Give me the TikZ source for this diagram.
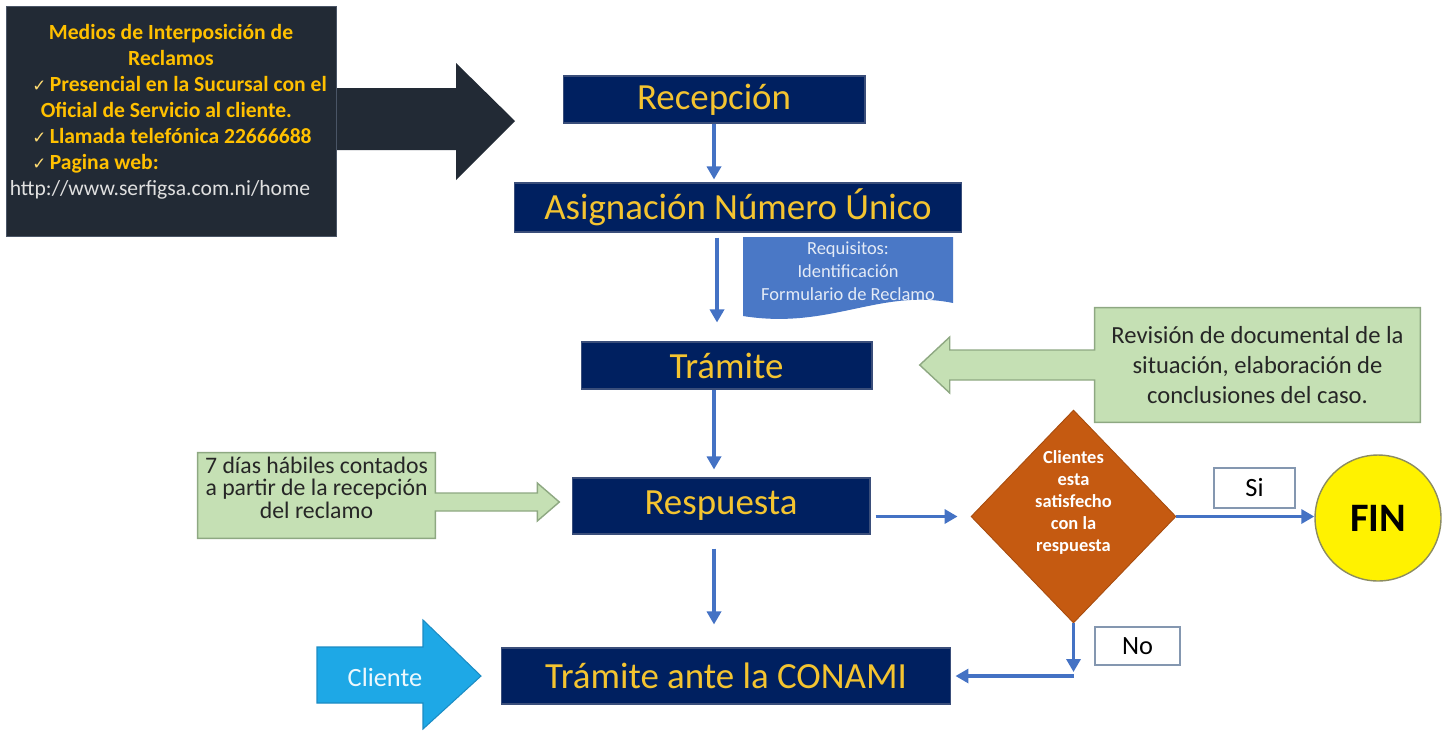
\documentclass[tikz,border=0pt]{standalone}
\usepackage{fontspec}
\setmainfont{Carlito}
\newfontfamily\symbolfont{DejaVu Sans}
\usepackage{xcolor}
\usepackage{tikz}
\usetikzlibrary{shapes.geometric,arrows.meta,positioning,calc,backgrounds}

\definecolor{navy}{HTML}{002060}
\definecolor{navyline}{HTML}{3A4E7A}
\definecolor{gold}{HTML}{F4C430}
\definecolor{amber}{HTML}{FFC000}
\definecolor{slate}{HTML}{222A35}
\definecolor{slateline}{HTML}{4A5566}
\definecolor{flowblue}{HTML}{4472C4}
\definecolor{docblue}{HTML}{4A78C6}
\definecolor{leaf}{HTML}{C5E0B4}
\definecolor{leafline}{HTML}{8EA882}
\definecolor{rust}{HTML}{C55A11}
\definecolor{sky}{HTML}{1EA8E6}
\definecolor{skyline}{HTML}{1B8CC4}
\definecolor{tagline}{HTML}{8497B0}
\definecolor{urlgray}{HTML}{E0E0E0}
\definecolor{finline}{HTML}{8C8C60}

\newcommand{\chk}{{\symbolfont\fontsize{9.5}{10}\selectfont\color{amber!55!white}✓}}

\begin{document}
\begin{tikzpicture}[x=0.02cm, y=-0.02cm,
    stage/.style={rectangle, fill=navy, draw=navyline, line width=0.6pt, text=gold,
                  font=\fontsize{21}{25}\selectfont, inner sep=0pt},
    mediosbox/.style={rectangle, fill=slate, draw=slateline, line width=0.5pt,
                      minimum width=6.6cm, minimum height=4.6cm,
                      align=left, inner sep=0pt, text=amber, font=\fontsize{12.3}{14.8}\selectfont},
    note/.style={align=center, text=black!85, inner sep=0pt},
    tag/.style={rectangle, draw=tagline, line width=0.6pt, fill=white, inner sep=0pt,
                font=\fontsize{15}{18}\selectfont},
    decision/.style={diamond, fill=rust, draw=rust!85!black, line width=0.5pt,
                     minimum width=4.1cm, minimum height=4.26cm, inner sep=0pt},
    dectext/.style={align=center, text=white, inner sep=0pt,
                    font=\bfseries\fontsize{10.5}{12.5}\selectfont},
    arr/.style={-{Triangle[length=0.26cm, width=0.28cm]}, line width=2pt, draw=flowblue},
    blockarrow/.style={line width=0.8pt, draw=leafline, fill=leaf, line join=miter}
  ]
  \useasboundingbox (0,0) rectangle (1453,731);

  % Claim channels box with its arrow
  \fill[slate] (320,88) -- (456,88) -- (456,63) -- (515,121) -- (456,180) -- (456,150) -- (320,150) -- cycle;
  \node[mediosbox] (medios) at (171,121) {%
    \makebox[6.45cm]{\bfseries Medios de Interposición de}\\
    \makebox[6.45cm]{\bfseries Reclamos}\\
    \hspace*{0.45cm}\chk\,\textbf{Presencial en la Sucursal con el}\\
    \hspace*{0.62cm}\textbf{Oficial de Servicio al cliente.}\\
    \hspace*{0.45cm}\chk\,\textbf{Llamada telefónica 22666688}\\
    \hspace*{0.45cm}\chk\,\textbf{Pagina web:}\\
    {\color{urlgray}http://www.serfigsa.com.ni/home}\\[-2pt]
    \mbox{}};

  % Main vertical stack
  \node[stage, minimum width=6.04cm, minimum height=0.94cm] (recep) at (714,99.5) {Recepción};
  \node[stage, minimum width=8.96cm, minimum height=0.98cm] (asig) at (738,207.5) {Asignación Número Único};
  \node[stage, minimum width=5.82cm, minimum height=0.94cm] (tram) at (726.5,365.5) {Trámite};
  \node[stage, minimum width=5.96cm, minimum height=1.12cm] (resp) at (721,506) {Respuesta};
  \node[stage, minimum width=9cm, minimum height=1.12cm] (conami) at (726,676) {Trámite ante la CONAMI};

  \draw[arr, shorten >=0.06cm] (recep.south) -- (recep.south |- asig.north);
  \draw[arr, shorten <=0.1cm, shorten >=0.38cm] ([xshift=-0.42cm]asig.south) -- ([xshift=-0.42cm]asig.south |- tram.north);
  \draw[arr, shorten >=0.16cm] ([xshift=-0.25cm]tram.south) -- ([xshift=-0.25cm]tram.south |- resp.north);
  \draw[arr, shorten <=0.28cm, shorten >=0.46cm] ([xshift=-0.14cm]resp.south) -- ([xshift=-0.14cm]resp.south |- conami.north);

  % Requirements document
  \node[font=\fontsize{10.5}{13.2}\selectfont, text=white!85!docblue, align=center, inner sep=0pt] (req) at (848,271)
    {Requisitos:\\Identificación\\Formulario de Reclamo};
  \begin{scope}[on background layer]
    \fill[docblue] (743,237) -- (953,237) -- (953,303) .. controls (880,288) and (830,330) .. (743,316) -- cycle;
  \end{scope}

  % Review note pointing at the process step
  \node[note, font=\fontsize{14}{17}\selectfont, minimum width=6.5cm, minimum height=2.28cm] (rev) at (1257.5,365)
    {Revisión de documental de la\\situación, elaboración de\\conclusiones del caso.};
  \begin{scope}[on background layer]
    \draw[blockarrow] (rev.north west) -- ([yshift=0.3cm]rev.west) -- ++(-2.9cm,0) -- ++(0,0.26cm)
      -- ++(-0.6cm,-0.56cm) -- ++(0.6cm,-0.56cm) -- ++(0,0.26cm) -- ([yshift=-0.3cm]rev.west)
      -- (rev.south west) -- (rev.south east) -- (rev.north east) -- cycle;
  \end{scope}

  % Deadline note
  \node[note, font=\fontsize{13.5}{13}\selectfont, minimum width=4.74cm, minimum height=1.7cm] (plazo) at (316.5,495.5)
    {7 días hábiles contados\\a partir de la recepción\\del reclamo\\[-4pt]\mbox{}};
  \begin{scope}[on background layer]
    \draw[blockarrow] (plazo.north east) -- ([yshift=0.05cm]plazo.east) -- ++(2.04cm,0) -- ++(0,0.2cm)
      -- ++(0.44cm,-0.38cm) -- ++(-0.44cm,-0.38cm) -- ++(0,0.2cm) -- ([yshift=-0.31cm]plazo.east)
      -- (plazo.south east) -- (plazo.south west) -- (plazo.north west) -- cycle;
  \end{scope}

  % Decision and outcomes
  \node[decision] (dia) at (1073.5,516.5) {};
  \node[dectext] (diatxt) at ([yshift=0.28cm]dia.center) {Clientes\\esta\\satisfecho\\con la\\respuesta};
  \node[circle, fill=yellow, draw=finline, line width=0.8pt, minimum size=2.52cm, inner sep=0pt,
        font=\bfseries\fontsize{23}{26}\selectfont] (fin) at (1378,518) {FIN};
  \node[tag, minimum width=1.62cm, minimum height=0.8cm] (si) at (1254.5,488) {Si};
  \node[tag, minimum width=1.7cm, minimum height=0.76cm] (no) at (1137.5,646) {No};

  \draw[arr, shorten <=0.1cm, shorten >=0.26cm] (resp.east |- dia) -- (dia.west);
  \draw[arr] (dia.east) -- (dia.east -| fin.west);
  \coordinate (turn) at (dia.south |- conami.east);
  \draw[arr, shorten >=0.08cm] (dia.south) -- (turn);
  \draw[arr, shorten >=0.08cm] (turn) -- (conami.east);

  % Client entry arrow
  \node[font=\fontsize{15}{18}\selectfont, text=white!92!sky, inner sep=0pt] (cliente) at (385,677) {Cliente};
  \begin{scope}[on background layer]
    \filldraw[fill=sky, draw=skyline, line width=0.6pt] (317,647) -- (423,647) -- (423,620) -- (481,676)
      -- (423,729) -- (423,703) -- (317,703) -- cycle;
  \end{scope}

\end{tikzpicture}
\end{document}
